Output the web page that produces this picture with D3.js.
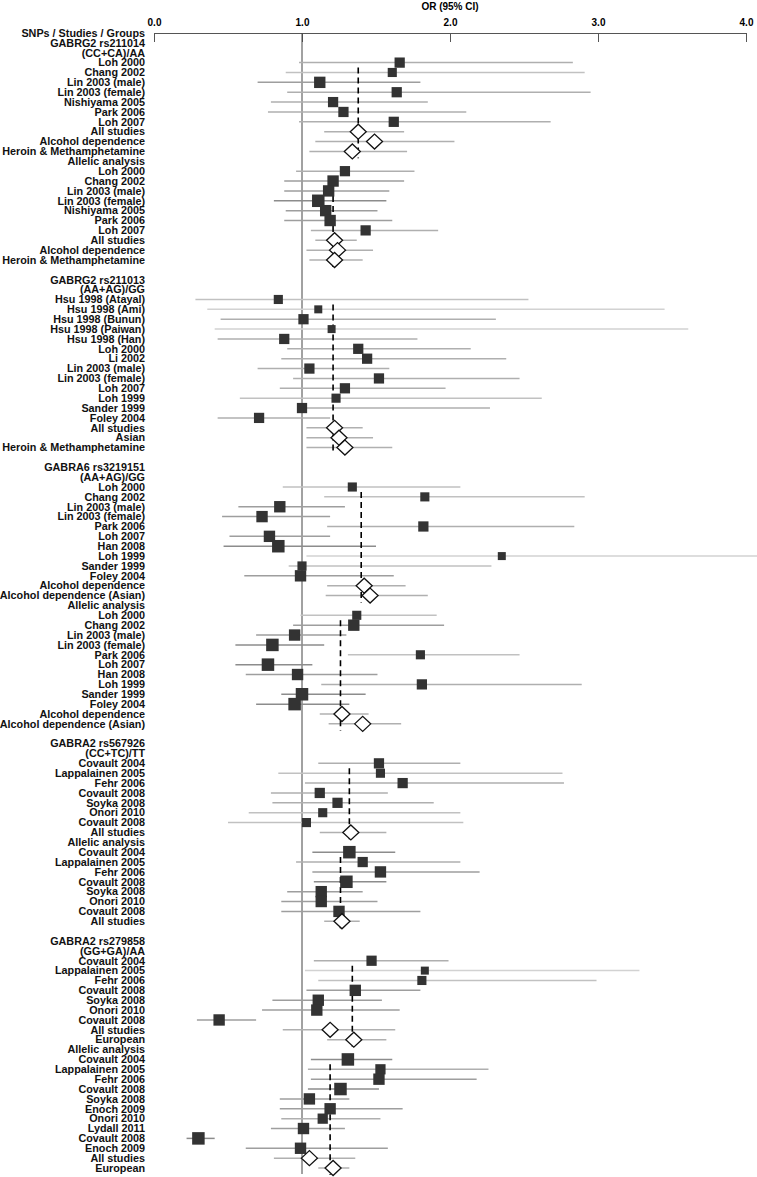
<!DOCTYPE html>
<html>
<head>
<meta charset="utf-8">
<script src="https://cdn.jsdelivr.net/npm/d3@7"></script>
<style>
  html, body { margin: 0; padding: 0; background: #fff; }
  text { font-family: "Liberation Sans", Arial, Helvetica, sans-serif; font-weight: bold; }
</style>
</head>
<body>
<svg id="chart" width="757" height="1177"></svg>
<script>
// ---------- DATA ----------
const axisTitle = "OR (95% CI)";
const tickValues = [0, 1, 2, 3, 4];

// row labels, top to bottom
const labels = [
  "SNPs / Studies / Groups", "GABRG2 rs211014", "(CC+CA)/AA",
  "Loh 2000", "Chang 2002", "Lin 2003 (male)", "Lin 2003 (female)", "Nishiyama 2005", "Park 2006", "Loh 2007",
  "All studies", "Alcohol dependence", "Heroin & Methamphetamine",
  "Allelic analysis",
  "Loh 2000", "Chang 2002", "Lin 2003 (male)", "Lin 2003 (female)", "Nishiyama 2005", "Park 2006", "Loh 2007",
  "All studies", "Alcohol dependence", "Heroin & Methamphetamine",
  "",
  "GABRG2 rs211013", "(AA+AG)/GG",
  "Hsu 1998 (Atayal)", "Hsu 1998 (Ami)", "Hsu 1998 (Bunun)", "Hsu 1998 (Paiwan)", "Hsu 1998 (Han)",
  "Loh 2000", "Li 2002", "Lin 2003 (male)", "Lin 2003 (female)", "Loh 2007", "Loh 1999", "Sander 1999", "Foley 2004",
  "All studies", "Asian", "Heroin & Methamphetamine",
  "",
  "GABRA6 rs3219151", "(AA+AG)/GG",
  "Loh 2000", "Chang 2002", "Lin 2003 (male)", "Lin 2003 (female)", "Park 2006", "Loh 2007", "Han 2008", "Loh 1999", "Sander 1999", "Foley 2004",
  "Alcohol dependence", "Alcohol dependence (Asian)",
  "Allelic analysis",
  "Loh 2000", "Chang 2002", "Lin 2003 (male)", "Lin 2003 (female)", "Park 2006", "Loh 2007", "Han 2008", "Loh 1999", "Sander 1999", "Foley 2004",
  "Alcohol dependence", "Alcohol dependence (Asian)",
  "",
  "GABRA2 rs567926", "(CC+TC)/TT",
  "Covault 2004", "Lappalainen 2005", "Fehr 2006", "Covault 2008", "Soyka 2008", "Onori 2010", "Covault 2008",
  "All studies",
  "Allelic analysis",
  "Covault 2004", "Lappalainen 2005", "Fehr 2006", "Covault 2008", "Soyka 2008", "Onori 2010", "Covault 2008",
  "All studies",
  "",
  "GABRA2 rs279858", "(GG+GA)/AA",
  "Covault 2004", "Lappalainen 2005", "Fehr 2006", "Covault 2008", "Soyka 2008", "Onori 2010", "Covault 2008",
  "All studies", "European",
  "Allelic analysis",
  "Covault 2004", "Lappalainen 2005", "Fehr 2006", "Covault 2008", "Soyka 2008", "Enoch 2009", "Onori 2010", "Lydall 2011", "Covault 2008", "Enoch 2009",
  "All studies", "European"
];

// row kind: h = header, s = study, d = pooled (diamond), b = blank
const kinds = [
  "h","h","h",
  "s","s","s","s","s","s","s",
  "d","d","d",
  "h",
  "s","s","s","s","s","s","s",
  "d","d","d",
  "b",
  "h","h",
  "s","s","s","s","s",
  "s","s","s","s","s","s","s","s",
  "d","d","d",
  "b",
  "h","h",
  "s","s","s","s","s","s","s","s","s","s",
  "d","d",
  "h",
  "s","s","s","s","s","s","s","s","s","s",
  "d","d",
  "b",
  "h","h",
  "s","s","s","s","s","s","s",
  "d",
  "h",
  "s","s","s","s","s","s","s",
  "d",
  "b",
  "h","h",
  "s","s","s","s","s","s","s",
  "d","d",
  "h",
  "s","s","s","s","s","s","s","s","s","s",
  "d","d"
];

// odds ratio point estimates (null for header / blank rows)
const orValues = [
  null,null,null,
  1.66,1.61,1.12,1.64,1.21,1.28,1.62,
  1.38,1.49,1.34,
  null,
  1.29,1.21,1.18,1.11,1.16,1.19,1.43,
  1.22,1.24,1.22,
  null,
  null,null,
  0.84,1.11,1.01,1.20,0.88,
  1.38,1.44,1.05,1.52,1.29,1.23,1.00,0.71,
  1.22,1.25,1.29,
  null,
  null,null,
  1.34,1.83,0.85,0.73,1.82,0.78,0.84,2.35,1.00,0.99,
  1.42,1.46,
  null,
  1.37,1.35,0.95,0.80,1.80,0.77,0.97,1.81,1.00,0.95,
  1.27,1.41,
  null,
  null,null,
  1.52,1.53,1.68,1.12,1.24,1.14,1.03,
  1.33,
  null,
  1.32,1.41,1.53,1.30,1.13,1.13,1.25,
  1.27,
  null,
  null,null,
  1.47,1.83,1.81,1.36,1.11,1.10,0.44,
  1.19,1.35,
  null,
  1.31,1.53,1.52,1.26,1.05,1.19,1.14,1.01,0.30,0.99,
  1.05,1.21
];

// lower 95% CI
const ciLower = [
  null,null,null,
  0.98,0.89,0.70,0.90,0.79,0.77,0.98,
  1.15,1.09,1.05,
  null,
  0.96,0.88,0.88,0.81,0.89,0.88,1.06,
  1.09,1.03,1.05,
  null,
  null,null,
  0.28,0.36,0.45,0.41,0.43,
  0.90,0.86,0.70,0.94,0.85,0.58,0.97,0.43,
  1.03,1.03,1.03,
  null,
  null,null,
  0.87,1.15,0.57,0.46,1.17,0.51,0.47,1.03,0.91,0.61,
  1.17,1.16,
  null,
  0.99,0.94,0.69,0.55,1.31,0.55,0.62,1.13,0.86,0.69,
  1.12,1.18,
  null,
  null,null,
  1.11,0.84,1.02,0.79,0.80,0.64,0.50,
  1.12,
  null,
  1.07,0.96,1.07,1.08,0.90,0.86,0.86,
  1.15,
  null,
  null,null,
  1.08,1.02,1.11,1.03,0.80,0.73,0.29,
  0.87,1.17,
  null,
  1.06,1.04,1.06,1.04,0.85,0.85,0.86,0.79,0.22,0.62,
  0.81,1.11
];

// upper 95% CI
const ciUpper = [
  null,null,null,
  2.83,2.91,1.80,2.95,1.85,2.11,2.68,
  1.69,2.03,1.71,
  null,
  1.76,1.69,1.59,1.57,1.51,1.61,1.92,
  1.37,1.48,1.41,
  null,
  null,null,
  2.53,3.45,2.31,3.61,1.78,
  2.14,2.38,1.59,2.47,1.97,2.62,2.27,1.19,
  1.41,1.48,1.61,
  null,
  null,null,
  2.07,2.91,1.29,1.19,2.84,1.19,1.50,4.08,2.28,1.62,
  1.70,1.85,
  null,
  1.91,1.96,1.30,1.15,2.47,1.07,1.51,2.89,1.43,1.32,
  1.45,1.67,
  null,
  null,null,
  2.07,2.76,2.77,1.58,1.89,2.07,2.09,
  1.57,
  null,
  1.63,2.07,2.20,1.57,1.41,1.51,1.80,
  1.39,
  null,
  null,null,
  1.99,3.28,2.99,1.80,1.54,1.66,0.69,
  1.63,1.57,
  null,
  1.61,2.26,2.18,1.52,1.32,1.68,1.53,1.29,0.41,1.58,
  1.36,1.32
];

// study weights (relative)
const weights = [
  null,null,null,
  10,9,11,10,10,10,10,
  null,null,null,
  null,
  10,11,11,12,11,11,10,
  null,null,null,
  null,
  null,null,
  9,8,10,8,10,
  10,10,10,10,10,9,10,10,
  null,null,null,
  null,
  null,null,
  9,9,11,11,10,11,12,8,9,11,
  null,null,
  null,
  9,11,11,12,9,12,11,10,12,12,
  null,null,
  null,
  null,null,
  10,9,10,10,10,9,9,
  null,
  null,
  12,10,11,12,11,11,11,
  null,
  null,
  null,null,
  10,8,9,11,11,11,11,
  null,null,
  null,
  12,10,11,12,11,11,10,11,12,11,
  null,null
];

// pooled reference lines: OR value, first study row, last pooled row
const pooledOR    = [1.38, 1.21, 1.21, 1.40, 1.26, 1.32, 1.26, 1.34, 1.19];
const pooledFirst = [3, 14, 27, 46, 59, 74, 83, 94, 104];
const pooledLast  = [12, 23, 42, 57, 70, 81, 90, 102, 115];

// ---------- DRAW ----------
const svg = d3.select("#chart");
const W = 757, H = 1177;

const x = d3.scaleLinear().domain([0, 4]).range([154, 746]);
const y = d3.scaleLinear().domain([0, labels.length - 1]).range([33, 1168]);
const side = d3.scaleLinear().domain([8, 12]).range([8, 12.5]);
const lineCol = d3.scaleLinear().domain([8, 12]).range(["#d2d2d2", "#8c8c8c"]).clamp(true);

const rows = labels.map((lab, i) => ({
  i, lab, kind: kinds[i], or: orValues[i], lo: ciLower[i], hi: ciUpper[i], w: weights[i]
}));

// title
svg.append("text")
  .attr("x", x(2)).attr("y", 10)
  .attr("text-anchor", "middle")
  .attr("font-size", "10px")
  .text(axisTitle);

// axis
const axis = d3.axisTop(x)
  .tickValues(tickValues)
  .tickFormat(d3.format(".1f"))
  .tickSizeInner(-9)
  .tickSizeOuter(0)
  .tickPadding(7);
const gAxis = svg.append("g").attr("transform", `translate(0,${y(0)})`).call(axis);
gAxis.select(".domain").attr("stroke", "#555").attr("stroke-width", 1);
gAxis.selectAll(".tick line").attr("stroke", "#555");
gAxis.selectAll(".tick text")
  .attr("font-size", "10px")
  .attr("font-family", "'Liberation Sans', Arial, sans-serif")
  .attr("font-weight", "bold")
  .attr("fill", "#000");

// null line at OR = 1
svg.append("line")
  .attr("x1", x(1)).attr("x2", x(1))
  .attr("y1", y(0)).attr("y2", H - 3)
  .attr("stroke", "#444").attr("stroke-width", 1);

// labels
svg.append("g").selectAll("text")
  .data(rows.filter(r => r.lab !== ""))
  .join("text")
  .attr("x", 145)
  .attr("y", r => y(r.i) + 3.8)
  .attr("text-anchor", "end")
  .attr("font-size", "10.8px")
  .attr("fill", "#111")
  .text(r => r.lab);

// CI lines
const marks = rows.filter(r => r.kind === "s" || r.kind === "d");
svg.append("g").selectAll("line")
  .data(marks)
  .join("line")
  .attr("x1", r => x(r.lo))
  .attr("x2", r => x(r.hi))
  .attr("y1", r => y(r.i))
  .attr("y2", r => y(r.i))
  .attr("stroke", r => r.kind === "s" ? lineCol(r.w) : "#b0b0b0")
  .attr("stroke-width", 1.5);

// pooled dashed lines
svg.append("g").selectAll("line")
  .data(pooledOR.map((v, k) => ({ v, a: pooledFirst[k], b: pooledLast[k] })))
  .join("line")
  .attr("x1", d => x(d.v)).attr("x2", d => x(d.v))
  .attr("y1", d => y(d.a + 0.5))
  .attr("y2", d => y(d.b + 0.7))
  .attr("stroke", "#000")
  .attr("stroke-width", 1.6)
  .attr("stroke-dasharray", "6,4");

// study squares
svg.append("g").selectAll("rect")
  .data(rows.filter(r => r.kind === "s"))
  .join("rect")
  .attr("x", r => x(r.or) - side(r.w) / 2)
  .attr("y", r => y(r.i) - side(r.w) / 2)
  .attr("width", r => side(r.w))
  .attr("height", r => side(r.w))
  .attr("fill", "#333");

// pooled diamonds
const hw = 8, hh = 7.5;
svg.append("g").selectAll("path")
  .data(rows.filter(r => r.kind === "d"))
  .join("path")
  .attr("d", r => {
    const cx = x(r.or), cy = y(r.i);
    return `M${cx - hw},${cy}L${cx},${cy - hh}L${cx + hw},${cy}L${cx},${cy + hh}Z`;
  })
  .attr("fill", "#fff")
  .attr("stroke", "#111")
  .attr("stroke-width", 1.3);
</script>
</body>
</html>
